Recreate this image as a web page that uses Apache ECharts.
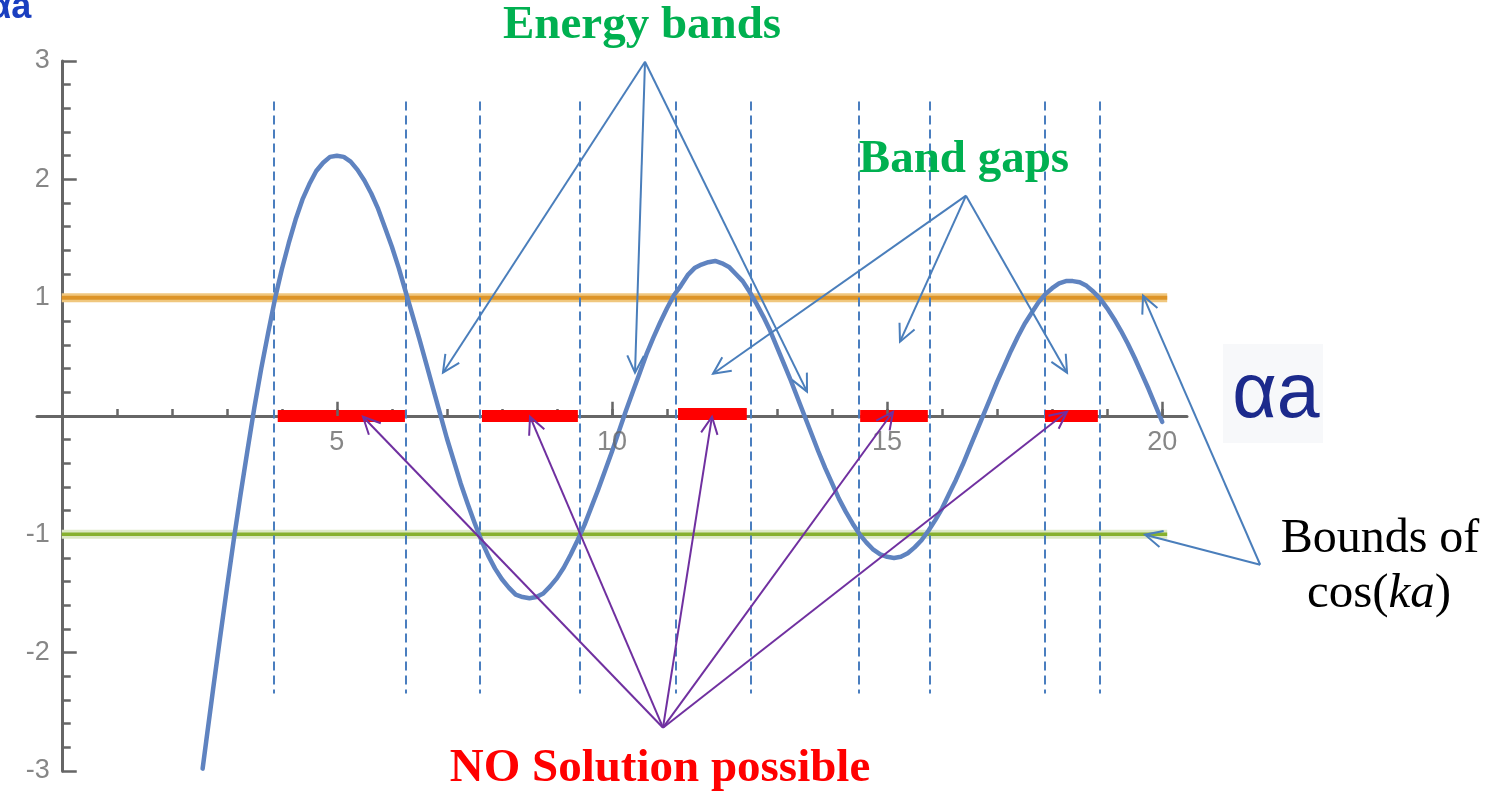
<!DOCTYPE html>
<html>
<head>
<meta charset="utf-8">
<script src="https://cdn.jsdelivr.net/npm/echarts@6/dist/echarts.min.js"></script>
<style>
html,body{margin:0;padding:0;background:#fff;overflow:hidden;}
#chart{width:1501px;height:796px;}
</style>
</head>
<body>
<div id="chart"></div>
<script>
// ---- data ----
const alphaA = [2.56, 2.625, 2.75, 2.875, 3.0, 3.125, 3.25, 3.375, 3.5, 3.625, 3.75, 3.875,
  4.0, 4.125, 4.25, 4.375, 4.5, 4.625, 4.75, 4.875, 5.0, 5.125, 5.25, 5.375, 5.5, 5.625, 5.75, 5.875,
  6.0, 6.125, 6.25, 6.375, 6.5, 6.625, 6.75, 6.875, 7.0, 7.125, 7.25, 7.375, 7.5, 7.625, 7.75, 7.875,
  8.0, 8.125, 8.25, 8.375, 8.5, 8.625, 8.75, 8.875, 9.0, 9.125, 9.25, 9.375, 9.5, 9.625, 9.75, 9.875,
  10.0, 10.125, 10.25, 10.375, 10.5, 10.625, 10.75, 10.875, 11.0, 11.125, 11.25, 11.375, 11.5, 11.625, 11.75, 11.875,
  12.0, 12.125, 12.25, 12.375, 12.5, 12.625, 12.75, 12.875, 13.0, 13.125, 13.25, 13.375, 13.5, 13.625, 13.75, 13.875,
  14.0, 14.125, 14.25, 14.375, 14.5, 14.625, 14.75, 14.875, 15.0, 15.125, 15.25, 15.375, 15.5, 15.625, 15.75, 15.875,
  16.0, 16.125, 16.25, 16.375, 16.5, 16.625, 16.75, 16.875, 17.0, 17.125, 17.25, 17.375, 17.5, 17.625, 17.75, 17.875,
  18.0, 18.125, 18.25, 18.375, 18.5, 18.625, 18.75, 18.875, 19.0, 19.125, 19.25, 19.375, 19.5, 19.625, 19.75, 19.875,
  20.0];
const curveF = [-2.98, -2.75, -2.31, -1.88, -1.46, -1.05, -0.66, -0.29, 0.07, 0.40, 0.70, 0.99,
  1.24, 1.46, 1.66, 1.83, 1.96, 2.07, 2.14, 2.19, 2.20, 2.19, 2.15, 2.08, 1.99, 1.88, 1.75, 1.59,
  1.43, 1.25, 1.05, 0.85, 0.65, 0.44, 0.23, 0.02, -0.19, -0.38, -0.57, -0.74, -0.90, -1.05, -1.18, -1.29,
  -1.38, -1.45, -1.51, -1.53, -1.54, -1.53, -1.50, -1.44, -1.37, -1.28, -1.17, -1.05, -0.92, -0.77, -0.62, -0.46,
  -0.30, -0.13, 0.04, 0.20, 0.36, 0.52, 0.66, 0.79, 0.91, 1.02, 1.10, 1.19, 1.25, 1.28, 1.30, 1.31,
  1.29, 1.26, 1.20, 1.14, 1.05, 0.95, 0.84, 0.72, 0.58, 0.44, 0.30, 0.15, 0.00, -0.15, -0.30, -0.44,
  -0.57, -0.70, -0.81, -0.91, -1.00, -1.07, -1.13, -1.17, -1.19, -1.20, -1.19, -1.16, -1.11, -1.05, -0.97, -0.88,
  -0.78, -0.66, -0.54, -0.41, -0.27, -0.13, 0.01, 0.15, 0.29, 0.42, 0.55, 0.67, 0.78, 0.87, 0.96, 1.03,
  1.08, 1.12, 1.14, 1.14, 1.13, 1.10, 1.05, 0.99, 0.91, 0.82, 0.72, 0.61, 0.49, 0.36, 0.23, 0.09,
  -0.05];
const boundUpper = 1;
const boundLower = -1;
const boundRange = [0, 20.09];
const dashX = [3.857, 6.256, 7.60, 9.418, 11.16, 12.526, 14.49, 15.78, 17.86, 18.86];
const dashRange = [2.657, -2.345];
const gapStart = [3.925, 7.637, 11.20, 14.51, 17.87];
const gapEnd   = [6.237, 9.380, 12.45, 15.74, 18.83];
const gapLevel = [0, 0, 0.02, 0, 0];
const xMajorTicks = [5, 10, 15, 20];
const xMinorTicks = [1,2,3,4,5,6,7,8,9,10,11,12,13,14,15,16,17,18,19,20];
const yTickLabels = [3, 2, 1, -1, -2, -3];
// annotation arrows [fromX, fromY, toX, toY] in axis units
const energyArrows = [[10.60, 2.994, 6.928, 0.366], [10.60, 2.994, 10.418, 0.366], [10.60, 2.994, 13.544, 0.206]];
const gapArrows = [[16.434, 1.862, 11.836, 0.357], [16.434, 1.862, 15.234, 0.628], [16.434, 1.862, 18.27, 0.366]];
const boundArrows = [[21.78, -1.257, 19.651, 1.017], [21.78, -1.257, 19.687, -1.003]];
const noSolArrows = [[10.927, -2.634, 5.474, -0.006], [10.927, -2.634, 8.51, -0.006], [10.927, -2.634, 11.817, -0.006],
  [10.927, -2.634, 15.107, 0.036], [10.927, -2.634, 18.27, 0.036]];

const chart = echarts.init(document.getElementById('chart'), null, {renderer: 'canvas'});

function arrowSeries(data, color) {
  return {
    type: 'custom',
    coordinateSystem: 'cartesian2d',
    clip: false,
    silent: true,
    z: 10,
    dimensions: ['x1', 'y1', 'x2', 'y2'],
    encode: {x: [0, 2], y: [1, 3]},
    data: data,
    renderItem: function (params, api) {
      const p1 = api.coord([api.value(0), api.value(1)]);
      const p2 = api.coord([api.value(2), api.value(3)]);
      const ang = Math.atan2(p2[1] - p1[1], p2[0] - p1[0]);
      const L = 19, a = 0.45;
      const h1 = [p2[0] - L * Math.cos(ang - a), p2[1] - L * Math.sin(ang - a)];
      const h2 = [p2[0] - L * Math.cos(ang + a), p2[1] - L * Math.sin(ang + a)];
      return {
        type: 'group',
        children: [
          {type: 'line', shape: {x1: p1[0], y1: p1[1], x2: p2[0], y2: p2[1]}, style: {stroke: color, lineWidth: 2}},
          {type: 'polyline', shape: {points: [h1, p2, h2]}, style: {stroke: color, fill: null, lineWidth: 2}}
        ]
      };
    }
  };
}

const labelFont = '"Liberation Sans", Arial, sans-serif';

const seriesList = [
  // bound lines (halo + core)
  {type: 'line', data: [[boundRange[0], boundUpper], [boundRange[1], boundUpper]], symbol: 'none', silent: true, z: 2,
    lineStyle: {color: '#f0c77e', width: 9}},
  {type: 'line', data: [[boundRange[0], boundUpper], [boundRange[1], boundUpper]], symbol: 'none', silent: true, z: 2,
    lineStyle: {color: '#dd9428', width: 4}},
  {type: 'line', data: [[boundRange[0], boundLower], [boundRange[1], boundLower]], symbol: 'none', silent: true, z: 2,
    lineStyle: {color: '#dde9c6', width: 9}},
  {type: 'line', data: [[boundRange[0], boundLower], [boundRange[1], boundLower]], symbol: 'none', silent: true, z: 2,
    lineStyle: {color: '#86b02e', width: 3.5}},
  // dashed band edges
  {type: 'lines', coordinateSystem: 'cartesian2d', silent: true, z: 3,
    data: dashX.map(x => ({coords: [[x, dashRange[0]], [x, dashRange[1]]]})),
    lineStyle: {color: '#4a7ebf', width: 2, type: [9, 5], opacity: 1}},
  // curve
  {type: 'line', data: alphaA.map((x, i) => [x, curveF[i]]), symbol: 'none', smooth: false, silent: true, z: 4,
    lineStyle: {color: '#5f83c0', width: 4.5, join: 'round', cap: 'round'}},
  // no-solution bars
  {type: 'lines', coordinateSystem: 'cartesian2d', silent: true, z: 5,
    data: gapStart.map((s, i) => ({coords: [[s, gapLevel[i]], [gapEnd[i], gapLevel[i]]]})),
    lineStyle: {color: '#ff0000', width: 12, opacity: 1, cap: 'butt'}},
  // long x ticks
  {type: 'lines', coordinateSystem: 'cartesian2d', silent: true, z: 6,
    data: xMajorTicks.map(v => ({coords: [[v, 0], [v, 0.12]]})),
    lineStyle: {color: '#666666', width: 2.5, opacity: 1, cap: 'butt'}},
  // x tick labels
  {type: 'scatter', silent: true, z: 7, symbolSize: 0, clip: false,
    data: xMajorTicks.map(v => [v, 0]),
    label: {show: true, position: 'bottom', distance: 13, formatter: p => String(p.value[0]),
      fontSize: 27, color: '#686868', fontFamily: labelFont}},
  // y tick labels
  {type: 'scatter', silent: true, z: 7, symbolSize: 0, clip: false,
    data: yTickLabels.map(v => [0, v]),
    label: {show: true, position: 'left', distance: 12, formatter: p => String(p.value[1]),
      fontSize: 27, color: '#686868', fontFamily: labelFont}},
  arrowSeries(energyArrows, '#4a7ebb'),
  arrowSeries(gapArrows, '#4a7ebb'),
  arrowSeries(boundArrows, '#4a7ebb'),
  arrowSeries(noSolArrows, '#7030a0')
];

const serif = '"Liberation Serif", "Times New Roman", serif';

chart.setOption({
  animation: false,
  backgroundColor: '#ffffff',
  grid: {left: 37, right: 314, top: 61, bottom: 25, containLabel: false, outerBoundsMode: 'none'},
  xAxis: {
    type: 'value', min: -0.45, max: 20.45,
    axisLine: {onZero: true, lineStyle: {color: '#666666', width: 3}},
    axisTick: {show: true, inside: true, length: 7, customValues: xMinorTicks, lineStyle: {color: '#666666', width: 2.5}},
    axisLabel: {show: false},
    splitLine: {show: false}
  },
  yAxis: {
    type: 'value', min: -3, max: 3, interval: 1,
    axisLine: {onZero: true, lineStyle: {color: '#666666', width: 3}},
    axisTick: {show: true, inside: true, length: 15, lineStyle: {color: '#666666', width: 2.5}},
    minorTick: {show: true, splitNumber: 5, length: 9, lineStyle: {color: '#666666', width: 2.5}},
    axisLabel: {show: false},
    splitLine: {show: false}
  },
  series: seriesList,
  graphic: [
    {type: 'text', x: -11, y: 8, z: 20, style: {text: 'αa', font: 'bold 36px "Liberation Sans", Arial, sans-serif', fill: '#1a3fc0',
      align: 'left', verticalAlign: 'middle', textAlign: 'left', textVerticalAlign: 'middle'}},
    {type: 'rect', shape: {x: 1223, y: 344, width: 100, height: 99}, z: 1, style: {fill: '#f7f8fa'}},
    {type: 'text', x: 1276, y: 396, z: 20, style: {text: 'αa', font: '77px "Liberation Sans", Arial, sans-serif', fill: '#1c2a8c',
      align: 'center', verticalAlign: 'middle', textAlign: 'center', textVerticalAlign: 'middle'}},
    {type: 'text', x: 642, y: 26, z: 20, style: {text: 'Energy bands', font: 'bold 47px ' + serif, fill: '#00b050',
      align: 'center', verticalAlign: 'middle', textAlign: 'center', textVerticalAlign: 'middle'}},
    {type: 'text', x: 964, y: 160, z: 20, style: {text: 'Band gaps', font: 'bold 47px ' + serif, fill: '#00b050',
      align: 'center', verticalAlign: 'middle', textAlign: 'center', textVerticalAlign: 'middle'}},
    {type: 'text', x: 660, y: 769, z: 20, style: {text: 'NO Solution possible', font: 'bold 47px ' + serif, fill: '#ff0000',
      align: 'center', verticalAlign: 'middle', textAlign: 'center', textVerticalAlign: 'middle'}},
    {type: 'text', x: 1380, y: 539, z: 20, style: {text: 'Bounds of', font: '48px ' + serif, fill: '#000000',
      align: 'center', verticalAlign: 'middle', textAlign: 'center', textVerticalAlign: 'middle'}},
    {type: 'text', x: 1379, y: 594, z: 20, style: {text: '{n|cos(}{i|ka}{n|)}', fill: '#000000',
      align: 'center', verticalAlign: 'middle', textAlign: 'center', textVerticalAlign: 'middle',
      rich: {n: {font: '49px ' + serif, fill: '#000'}, i: {font: 'italic 49px ' + serif, fill: '#000'}}}}
  ]
});
</script>
</body>
</html>
